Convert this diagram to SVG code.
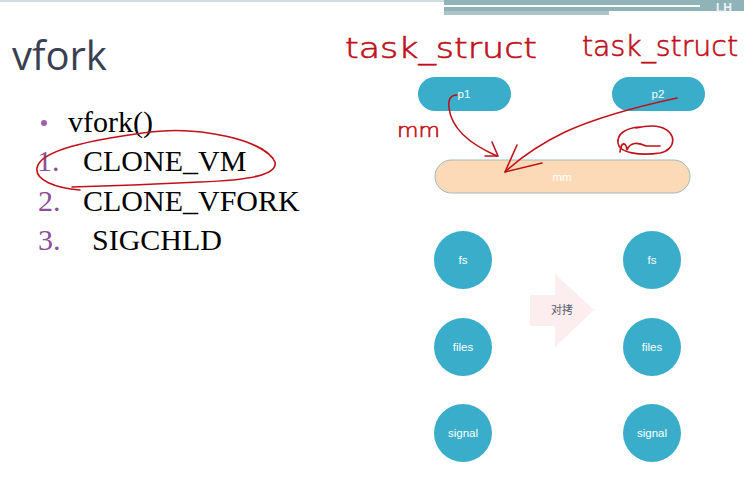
<svg xmlns="http://www.w3.org/2000/svg" width="744" height="480" viewBox="0 0 744 480">
<style>
.pill{fill:#39adca}
.circ{fill:#39adca}
.lbl{font-family:"Liberation Sans",Arial,sans-serif;font-size:11.5px;fill:#ffffff;text-anchor:middle}
.list{font-family:"Liberation Serif","Times New Roman",serif;font-size:30px;fill:#000000}
.num{font-family:"Liberation Serif","Times New Roman",serif;font-size:30px;fill:#8a4f98}
.ink{fill:none;stroke:#c0111a;stroke-width:1.6;stroke-linecap:round;stroke-linejoin:round}
.hand{font-family:"DejaVu Sans",sans-serif;fill:#c0111a;stroke:#c0111a;stroke-width:0.6;font-weight:200}
</style>
<rect x="0" y="0" width="744" height="480" fill="#ffffff"/>
<g id="banner">
<rect x="0" y="0" width="444" height="2" fill="#cfdde0"/>
<rect x="444" y="0" width="300" height="11" fill="#8fb3b8"/>
<rect x="444" y="11" width="165" height="4" fill="#a9c5c8"/>
<rect x="444" y="5" width="256" height="2" fill="#ffffff"/>
<text x="716" y="12" font-family="Liberation Sans,Arial,sans-serif" font-size="12" font-weight="bold" fill="#eef4f5">LH</text>
</g>
<g id="title">
<text x="12" y="70" font-family="Open Sans,sans-serif" font-size="40" fill="#3b3f52">vfork</text>
</g>
<g id="list">
<circle cx="44" cy="123" r="3" fill="#a35fa8"/>
<text class="list" x="68" y="132">vfork()</text>
<text class="num" x="37" y="171">1.</text>
<text class="list" x="83" y="171">CLONE_VM</text>
<text class="num" x="38" y="211">2.</text>
<text class="list" x="83" y="211">CLONE_VFORK</text>
<text class="num" x="38" y="250">3.</text>
<text class="list" x="92" y="250">SIGCHLD</text>
</g>
<g id="p1"><rect class="pill" x="418" y="77" width="93" height="34" rx="17"/><text class="lbl" x="464" y="98">p1</text></g>
<g id="p2"><rect class="pill" x="612" y="77" width="93" height="34" rx="17"/><text class="lbl" x="658" y="98">p2</text></g>
<g id="mm"><rect x="435" y="160" width="255" height="33" rx="16.5" fill="#fddab7" stroke="#9fb9b9" stroke-width="1"/><text class="lbl" x="562" y="181">mm</text></g>
<g id="fs1"><circle class="circ" cx="463" cy="260" r="29"/><text class="lbl" x="463" y="264">fs</text></g>
<g id="files1"><circle class="circ" cx="463" cy="347" r="29"/><text class="lbl" x="463" y="351">files</text></g>
<g id="signal1"><circle class="circ" cx="463" cy="433" r="29"/><text class="lbl" x="463" y="437">signal</text></g>
<g id="fs2"><circle class="circ" cx="652" cy="260" r="29"/><text class="lbl" x="652" y="264">fs</text></g>
<g id="files2"><circle class="circ" cx="652" cy="347" r="29"/><text class="lbl" x="652" y="351">files</text></g>
<g id="signal2"><circle class="circ" cx="652" cy="433" r="29"/><text class="lbl" x="652" y="437">signal</text></g>
<g id="copy">
<polygon points="530,295 555,295 555,274 594,310 555,347 555,326 530,326" fill="#fcedef"/>
<text x="562" y="314" font-family="Noto Sans CJK SC,sans-serif" font-size="11" fill="#555a66" text-anchor="middle">对拷</text>
</g>
<g id="connectors">
<path class="ink" d="M457 95 C450 95 448 100 449 108 C451 125 465 142 497 156"/>
<path class="ink" d="M492 142 L498 156 L485 156"/>
<path class="ink" d="M677 98 C640 106 600 116 565 132 C540 144 520 158 505 172"/>
<path class="ink" d="M517 145 L505 172 L542 163"/>
</g>
<g id="annotations">
<path class="ink" d="M80 190 C55 188 35 180 37 168 C40 150 90 140 150 132 C200 126 265 140 275 162 C278 175 250 180 200 182 C160 184 110 186 72 187"/>
<text class="hand" x="345" y="58" font-size="28" textLength="192" lengthAdjust="spacingAndGlyphs">task_struct</text>
<text class="hand" x="582" y="56" font-size="28" textLength="156" lengthAdjust="spacingAndGlyphs">task_struct</text>
<text class="hand" x="397" y="137" font-size="19" textLength="43" lengthAdjust="spacingAndGlyphs">mm</text>
<path class="ink" d="M640 127 C625 128 617 134 618 143 C619 153 640 156 660 153 C676 150 678 132 660 127 C652 125 645 126 636 128"/>
<path class="ink" d="M620 152 C621 142 626 141 627 150 C630 142 638 142 646 146 L660 146"/>
</g>
</svg>
